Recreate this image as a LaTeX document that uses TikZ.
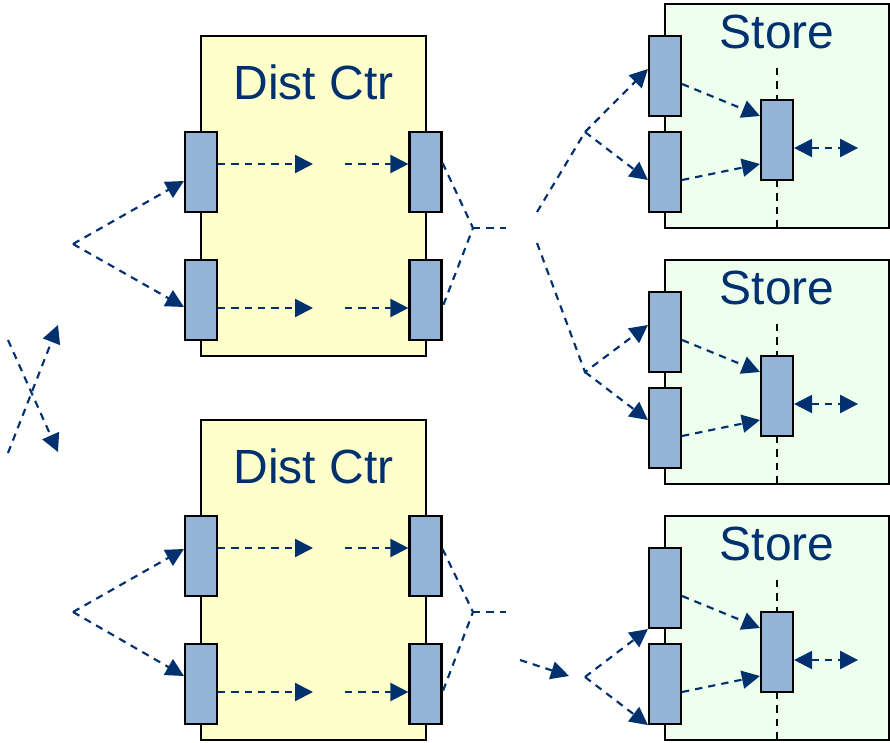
\documentclass[tikz,border=0pt]{standalone}
\usepackage{fontspec}
\setmainfont{Liberation Sans}
\usetikzlibrary{arrows.meta,calc}
\definecolor{navy}{HTML}{00316E}
\definecolor{dcyellow}{HTML}{FFFFCC}
\definecolor{storegreen}{HTML}{EEFFEE}
\definecolor{portblue}{HTML}{93B3D7}
\begin{document}
\begin{tikzpicture}[x=0.75pt,y=-0.75pt,
  dcbox/.style={draw=black,line width=1.6pt,fill=dcyellow,minimum width=168.75pt,minimum height=240pt,inner sep=0pt},
  storebox/.style={draw=black,line width=1.6pt,fill=storegreen,minimum width=168pt,minimum height=168pt,inner sep=0pt},
  port/.style={draw=black,line width=1.6pt,fill=portblue,minimum width=24pt,minimum height=60pt,inner sep=0pt},
  flow/.style={draw=navy,line width=1.6pt,dash pattern=on 5.5pt off 4.5pt,-{Triangle[length=13.5pt,width=13.5pt]}},
  both/.style={draw=navy,line width=1.6pt,dash pattern=on 5.5pt off 4.5pt,{Triangle[length=13.5pt,width=13.5pt]}-{Triangle[length=13.5pt,width=13.5pt]}},
  plain/.style={draw=navy,line width=1.6pt,dash pattern=on 5.5pt off 4.5pt},
  axis/.style={draw=black,line width=1.4pt,dash pattern=on 5.5pt off 4.5pt},
  title/.style={text=navy,font=\fontsize{36}{40}\selectfont,anchor=base,inner sep=0pt}
]
\useasboundingbox (0,0) rectangle (890,743);

% Distribution centres
\node[dcbox] (dc1) at (313.5,196) {};
\node[dcbox] (dc2) at (313.5,580) {};
\node[title] (dc1t) at (313.5,99) {Dist Ctr};
\node[title] (dc2t) at (313.5,483) {Dist Ctr};

\node[port] (l1a) at (201,172) {};
\node[port] (l1b) at (201,300) {};
\node[port] (r1a) at (425.5,172) {};
\node[port] (r1b) at (425.5,300) {};
\node[port] (l2a) at (201,556) {};
\node[port] (l2b) at (201,684) {};
\node[port] (r2a) at (425.5,556) {};
\node[port] (r2b) at (425.5,684) {};

% Stores
\foreach \i/\o in {1/0,2/256,3/512}{
  \node[storebox] (st\i) at (777,116+\o) {};
  \node[title] (st\i t) at (777,48+\o) {Store};
  \node[port] (pa\i) at (665,76+\o) {};
  \node[port] (pb\i) at (665,172+\o) {};
  \draw[axis] (777,68+\o) -- (777,100+\o);
  \draw[axis] (777,180+\o) -- (st\i.south);
  \node[port] (q\i) at (777,140+\o) {};
  \draw[flow] ($(pa\i.east)+(0,8)$) -- ($(q\i.west)+(0,-24)$);
  \draw[flow] ($(pb\i.east)+(0,8)$) -- ($(q\i.west)+(0,24)$);
  \coordinate (out\i) at ($(q\i.east)+(64,8)$);
  \draw[both] ($(q\i.east)+(0,8)$) -- (out\i);
}

% flows inside distribution centres
\coordinate (m1a) at (313,164);
\coordinate (n1a) at (345,164);
\coordinate (m1b) at (313,308);
\coordinate (n1b) at (345,308);
\coordinate (m2a) at (313,548);
\coordinate (n2a) at (345,548);
\coordinate (m2b) at (313,692);
\coordinate (n2b) at (345,692);
\draw[flow] ($(l1a.east)+(0,-8)$) -- (m1a);
\draw[flow] (n1a) -- ($(r1a.west)+(0,-8)$);
\draw[flow] ($(l1b.east)+(0,8)$) -- (m1b);
\draw[flow] (n1b) -- ($(r1b.west)+(0,8)$);
\draw[flow] ($(l2a.east)+(0,-8)$) -- (m2a);
\draw[flow] (n2a) -- ($(r2a.west)+(0,-8)$);
\draw[flow] ($(l2b.east)+(0,8)$) -- (m2b);
\draw[flow] (n2b) -- ($(r2b.west)+(0,8)$);

% left forks
\coordinate (f1) at (73,244);
\coordinate (f2) at (73,612);
\draw[flow] (f1) -- ($(l1a.west)+(0,9)$);
\draw[flow] (f1) -- ($(l1b.west)+(0,7)$);
\draw[flow] (f2) -- ($(l2a.west)+(0,-7)$);
\draw[flow] (f2) -- ($(l2b.west)+(0,-8)$);

% right forks
\coordinate (g1) at (473,228);
\coordinate (h1) at (506,228);
\coordinate (g2) at (473,612);
\coordinate (h2) at (506,612);
\draw[plain] ($(r1a.east)+(0,-9)$) -- (g1) -- ($(r1b.east)+(0,7)$);
\draw[plain] (g1) -- (h1);
\draw[plain] ($(r2a.east)+(0,-7)$) -- (g2) -- ($(r2b.east)+(0,8)$);
\draw[plain] (g2) -- (h2);

% store feeds
\coordinate (s1) at (537,212);
\coordinate (v1) at (585,132);
\draw[flow] (s1) -- (v1) -- ($(pa1.west)+(0,-7)$);
\draw[flow] (v1) -- ($(pb1.west)+(0,8)$);
\coordinate (s2) at (537,243);
\coordinate (v2) at (585,372);
\draw[flow] (s2) -- (v2) -- ($(pa2.west)+(0,-7)$);
\draw[flow] (v2) -- ($(pb2.west)+(0,-8)$);
\coordinate (s3) at (520,660);
\coordinate (t3) at (569,676);
\coordinate (v3) at (585,677);
\draw[flow] (s3) -- (t3);
\draw[flow] (v3) -- (pa3.south west);
\draw[flow] (v3) -- (pb3.south west);

% crossing arrows at left
\coordinate (c1) at (8,340);
\coordinate (c2) at (58,452);
\coordinate (c3) at (8,453);
\coordinate (c4) at (58,325);
\draw[flow] (c1) -- (c2);
\draw[flow] (c3) -- (c4);
\end{tikzpicture}
\end{document}
